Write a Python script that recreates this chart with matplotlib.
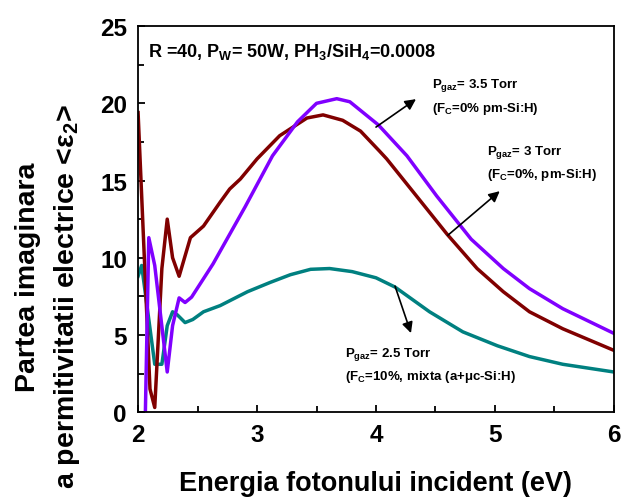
import numpy as np
import matplotlib
matplotlib.use('Agg')
from matplotlib import pyplot as plt

plt.rcParams['font.family'] = ['Liberation Sans', 'DejaVu Sans']
plt.rcParams['font.weight'] = 'bold'
plt.rcParams['mathtext.fontset'] = 'custom'
plt.rcParams['mathtext.rm'] = 'Liberation Sans:bold'
plt.rcParams['mathtext.bf'] = 'Liberation Sans:bold'
plt.rcParams['mathtext.it'] = 'Liberation Sans:bold'

# P_gaz = 3 Torr (rosu inchis)
e_3 = [2.00, 2.10, 2.14, 2.20, 2.245, 2.29, 2.345, 2.44, 2.55, 2.69, 2.77, 2.86,
       3.00, 3.19, 3.42, 3.555, 3.72, 3.87, 4.03, 4.09, 4.34, 4.60, 4.85, 5.07,
       5.29, 5.57, 6.00]
eps_3 = [19.4, 1.5, 0.3, 9.3, 12.5, 10.0, 8.8, 11.3, 12.05, 13.6, 14.45, 15.1,
         16.4, 17.9, 19.05, 19.25, 18.9, 18.2, 16.9, 16.4, 14.0, 11.5, 9.3, 7.8,
         6.5, 5.4, 4.0]

# P_gaz = 3.5 Torr (violet)
e_35 = [2.06, 2.09, 2.14, 2.245, 2.29, 2.345, 2.395, 2.45, 2.63, 2.90, 3.13,
        3.34, 3.50, 3.67, 3.78, 4.02, 4.26, 4.51, 4.80, 5.07, 5.29, 5.57, 6.00]
eps_35 = [-0.5, 11.3, 9.5, 2.6, 5.6, 7.4, 7.1, 7.45, 9.6, 13.3, 16.6,
          18.8, 20.0, 20.3, 20.1, 18.6, 16.6, 14.0, 11.2, 9.3, 8.0, 6.7, 5.1]

# P_gaz = 2.5 Torr (teal)
e_25 = [2.00, 2.03, 2.14, 2.20, 2.245, 2.29, 2.33, 2.395, 2.46, 2.55, 2.69,
        2.92, 3.11, 3.28, 3.45, 3.61, 3.80, 4.00, 4.16, 4.45, 4.73, 5.02, 5.29,
        5.57, 6.00]
eps_25 = [8.8, 9.5, 3.1, 3.1, 5.6, 6.5, 6.3, 5.8, 6.0, 6.5, 6.9,
          7.8, 8.4, 8.9, 9.25, 9.3, 9.1, 8.7, 8.1, 6.5, 5.2, 4.3, 3.6,
          3.1, 2.6]

fig = plt.figure(figsize=(6.22, 5.02), dpi=100)
ax = fig.add_axes([0.222, 0.177, 0.765, 0.769])

lw = 2.5
ax.plot(e_25, eps_25, color='#008080', lw=lw)
ax.plot(e_3, eps_3, color='#800000', lw=lw)
ax.plot(e_35, eps_35, color='#8000ff', lw=lw)

ax.set_xlim(2, 6)
ax.set_ylim(0, 25)
ax.set_xticks([2, 3, 4, 5, 6])
ax.set_xticks([2.5, 3.5, 4.5, 5.5], minor=True)
ax.set_yticks([0, 5, 10, 15, 20, 25])
ax.set_yticks([2.5, 7.5, 12.5, 17.5, 22.5], minor=True)
ax.tick_params(which='both', direction='in', width=1.3, labelsize=17.5, pad=8)
ax.tick_params(which='major', length=5)
ax.tick_params(which='minor', length=4)
for s in ax.spines.values():
    s.set_linewidth(1.3)

ax.set_xlabel('Energia fotonului incident (eV)', fontsize=19.5, fontweight='bold', labelpad=17)
fig.text(0.045, 0.448, 'Partea imaginara', rotation=90, ha='center', va='center',
         fontsize=20.5, fontweight='bold')
fig.text(0.108, 0.408, 'a permitivitatii electrice <ε$_2$>', rotation=90, ha='center',
         va='center', fontsize=20.5, fontweight='bold')

ax.text(2.084, 23.06, 'R =40, P$_\\mathrm{W}$= 50W, PH$_3$/SiH$_4$=0.0008',
        fontsize=13, fontweight='bold', va='baseline')

fs = 9.5
ax.text(4.47, 21.05, 'P$_\\mathrm{gaz}$= 3.5 Torr', fontsize=fs, va='baseline')
ax.text(4.47, 19.5, '(F$_\\mathrm{C}$=0% pm-Si:H)', fontsize=fs, va='baseline')
ax.text(4.933, 16.71, 'P$_\\mathrm{gaz}$= 3 Torr', fontsize=fs, va='baseline')
ax.text(4.933, 15.22, '(F$_\\mathrm{C}$=0%, pm-Si:H)', fontsize=fs, va='baseline')
ax.text(3.74, 3.63, 'P$_\\mathrm{gaz}$= 2.5 Torr', fontsize=fs, va='baseline')
ax.text(3.74, 2.14, '(F$_\\mathrm{C}$=10%, mixta (a+μc-Si:H)', fontsize=fs, va='baseline')

arr = dict(arrowstyle='-|>', color='k', lw=1.2, mutation_scale=16, shrinkA=0, shrinkB=0)
ax.annotate('', xy=(4.336, 20.27), xytext=(4.0, 18.46), arrowprops=arr)
ax.annotate('', xy=(5.04, 14.31), xytext=(4.605, 11.46), arrowprops=arr)
ax.annotate('', xy=(4.294, 5.12), xytext=(4.16, 8.16), arrowprops=arr)

fig.savefig('out.png', dpi=100)
